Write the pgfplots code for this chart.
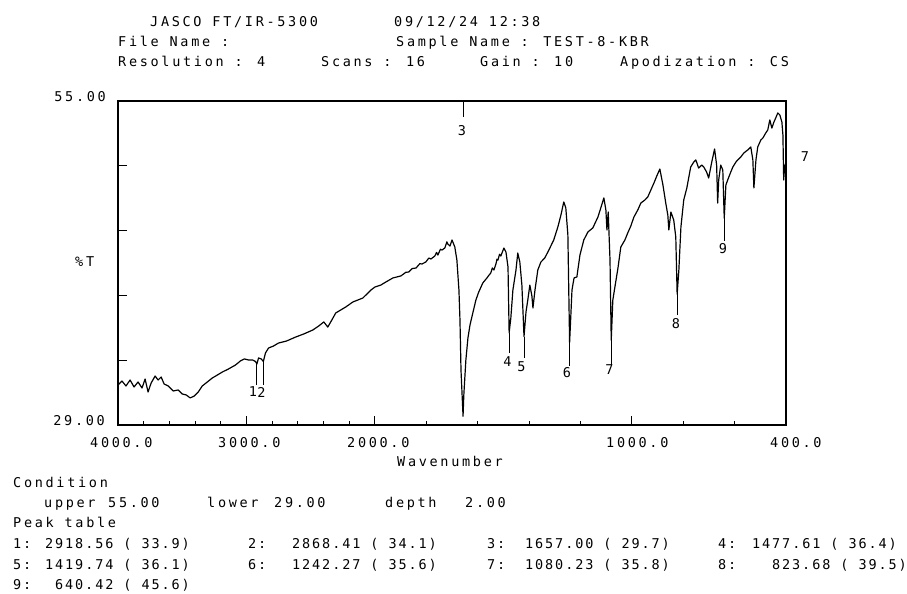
\documentclass[border=0pt]{standalone}
\usepackage{pgfplots}
\usepackage{pgfplotstable}
\pgfplotsset{compat=1.18}
\usepackage{fontspec}
\newfontfamily\plt[LetterSpace=20]{DejaVu Sans Mono}
\newfontfamily\pltt[LetterSpace=14]{DejaVu Sans Mono}
\newcommand\pf{\plt\fontsize{13.5bp}{16bp}\selectfont}
\newcommand\pt{\pltt\fontsize{13.5bp}{16bp}\selectfont}

\pgfplotstableread{
wn T
4000 32.21
3969 32.53
3938 32.13
3906 32.61
3875 32.05
3844 32.45
3813 31.97
3789 32.69
3766 31.65
3742 32.37
3711 32.93
3688 32.61
3664 32.85
3641 32.29
3609 32.13
3570 31.73
3531 31.81
3500 31.49
3469 31.41
3438 31.17
3406 31.33
3375 31.65
3344 32.13
3305 32.45
3266 32.77
3227 33.01
3188 33.25
3141 33.49
3086 33.81
3047 34.14
3016 34.30
2984 34.22
2953 34.22
2930 34.10
2918.56 33.90
2906 34.38
2885 34.30
2868.41 34.10
2852 34.78
2828 35.18
2789 35.34
2750 35.58
2688 35.74
2617 36.06
2555 36.30
2484 36.62
2438 36.94
2398 37.27
2367 36.86
2344 37.27
2305 37.99
2266 38.23
2227 38.47
2172 38.87
2094 39.19
2031 39.83
2000 40.07
1977 40.23
1957 40.48
1930 40.80
1899 40.96
1880 41.25
1868 41.28
1855 41.55
1840 41.60
1825 41.95
1817 41.92
1802 42.08
1790 42.40
1782 42.32
1767 42.56
1760 42.85
1755 42.64
1745 43.10
1739 43.04
1728 43.20
1720 43.70
1716 43.52
1708 43.36
1700 43.85
1689 43.28
1681 42.24
1673 39.83
1669 37.43
1665 33.41
1657 29.70
1654 31.41
1646 34.22
1638 35.98
1630 37.02
1619 37.99
1607 39.03
1596 39.67
1580 40.40
1564 40.80
1557 41.00
1549 41.20
1543 41.60
1537 41.44
1529 41.92
1525 42.30
1521 42.24
1515 42.70
1510 42.56
1498 43.20
1490 42.88
1482 41.68
1477.61 36.40
1471 37.59
1463 39.83
1451 41.44
1444 42.80
1436 42.08
1428 40.23
1419.74 36.10
1412 38.07
1405 39.03
1397 40.23
1389 39.35
1385 38.39
1377 39.83
1366 41.44
1354 42.08
1339 42.40
1323 43.04
1304 43.85
1288 44.89
1276 45.85
1265 46.90
1257 46.41
1249 44.25
1242.27 35.60
1233 39.83
1225 40.80
1214 40.88
1202 42.64
1187 43.85
1171 44.49
1152 44.81
1132 45.69
1121 46.41
1109 47.22
1101 46.25
1097 44.65
1092 46.09
1085 42.24
1080.23 35.80
1074 39.03
1066 40.07
1054 41.60
1043 43.28
1027 43.85
1016 44.41
1004 44.97
992 45.69
977 46.25
965 46.81
949 47.06
938 47.30
926 47.86
914 48.42
903 48.98
891 49.54
879 48.26
868 46.81
860 45.85
856 44.65
848 46.09
837 45.45
829 44.09
823.68 39.50
817 41.44
809 44.89
798 47.06
786 48.02
771 49.70
759 50.10
751 50.27
740 49.62
728 49.86
720 49.70
709 49.30
701 48.82
689 50.10
678 51.15
670 49.86
666 46.81
662 48.66
654 49.86
646 49.46
640.42 45.60
634 48.26
627 48.66
615 49.30
607 49.70
595 50.10
588 50.27
576 50.51
564 50.83
549 51.07
537 51.31
529 50.27
525 48.02
517 50.27
510 51.31
498 51.87
490 52.03
479 52.43
471 52.67
463 53.48
455 52.83
447 53.31
440 53.64
432 54.04
424 53.88
416 53.31
412 52.27
409 48.66
405 49.86
400 49.46
}\spec

\begin{document}
\begin{tikzpicture}
\useasboundingbox (-118bp,-169bp) rectangle (789bp,425bp);
\begin{axis}[
  at={(0,0)}, anchor=south west,
  scale only axis, width=668bp, height=324bp,
  xmin=0, xmax=5200, ymin=29, ymax=55,
  axis line style={line width=1.1pt},
  xtick={0,1000,2000,4000,5200},
  minor xtick={200,400,600,800,1200,1400,1600,1800,2400,2800,3200,3600,4400,4800},
  ytick={34.2,39.4,44.6,49.8},
  xticklabels={}, yticklabels={},
  xtick pos=bottom, ytick pos=left, tick align=inside,
  major tick length=9bp, minor tick length=4bp,
  every tick/.style={black, line width=0.9pt},
  clip=false,
  x filter/.expression={x<2000 ? 6000-2*x : 4000-x},
]
\addplot[black, line width=1.2pt, line join=round] table[x=wn, y=T]{\spec};
% peak markers
\addplot[black, line width=0.9pt] coordinates {(2918.56,33.9) (2918.56,32.21)};
\addplot[black, line width=0.9pt] coordinates {(2868.41,34.1) (2868.41,32.21)};
\addplot[black, line width=0.9pt] coordinates {(1657,55) (1657,53.72)};
\addplot[black, line width=0.9pt] coordinates {(1477.61,36.4) (1477.61,34.78)};
\addplot[black, line width=0.9pt] coordinates {(1419.74,36.1) (1419.74,34.38)};
\addplot[black, line width=0.9pt] coordinates {(1242.27,35.6) (1242.27,33.73)};
\addplot[black, line width=0.9pt] coordinates {(1080.23,35.8) (1080.23,33.81)};
\addplot[black, line width=0.9pt] coordinates {(823.68,39.5) (823.68,37.83)};
\addplot[black, line width=0.9pt] coordinates {(640.42,45.6) (640.42,43.77)};
\end{axis}

\begin{scope}[x=1bp, y=-1bp, shift={(-118bp,425bp)}, every node/.style={inner sep=0pt, font=\pf}]
% header
\node[anchor=base west] at (150,26.5) {JASCO FT/IR-5300};
\node[anchor=base west] at (394,26.5) {09/12/24 12:38};
\node[anchor=base west] at (118,46.7) {File Name  :};
\node[anchor=base west] at (396,46.7) {Sample Name : TEST-8-KBR};
\node[anchor=base west] at (118,67) {Resolution : 4};
\node[anchor=base west] at (321,67) {Scans : 16};
\node[anchor=base west] at (480,67) {Gain : 10};
\node[anchor=base west] at (620,67) {Apodization : CS};
% y labels
\node[anchor=base east] at (106,101.5) {55.00};
\node[anchor=base east] at (105,426) {29.00};
\node[anchor=base west] at (75,267) {\%T};
% x labels
\node[anchor=base west] at (90,448) {4000.0};
\node[anchor=base west] at (218,448) {3000.0};
\node[anchor=base west] at (347,448) {2000.0};
\node[anchor=base west] at (606,448) {1000.0};
\node[anchor=base west] at (770,448) {400.0};
\node[anchor=base west] at (397,467) {Wavenumber};
% peak labels
\node at (253,392) {1};
\node at (261.5,392) {2};
\node at (462,131) {3};
\node at (507.5,362) {4};
\node at (521.5,367) {5};
\node at (567,373) {6};
\node at (609.5,370) {7};
\node at (676,324) {8};
\node at (723,249) {9};
\node at (805,157) {7};
% bottom block
\node[anchor=base west] at (13,488) {Condition};
\node[anchor=base west] at (44,508) {upper};
\node[anchor=base west] at (108,508) {55.00};
\node[anchor=base west] at (207,508) {lower};
\node[anchor=base west] at (274,508) {29.00};
\node[anchor=base west] at (385,508) {depth};
\node[anchor=base west] at (465,508) {2.00};
\node[anchor=base west] at (13,528) {Peak table};
\end{scope}
\begin{scope}[x=1bp, y=-1bp, shift={(-118bp,425bp)}, every node/.style={inner sep=0pt, font=\pt, anchor=base west}]
% peak table rows
\node at (13,549) {1:};
\node at (45,549) {2918.56 ( 33.9)};
\node at (248,549) {2:};
\node at (292,549) {2868.41 ( 34.1)};
\node at (487,549) {3:};
\node at (525,549) {1657.00 ( 29.7)};
\node at (718,549) {4:};
\node at (752,549) {1477.61 ( 36.4)};
\node at (13,570) {5:};
\node at (45,570) {1419.74 ( 36.1)};
\node at (248,570) {6:};
\node at (292,570) {1242.27 ( 35.6)};
\node at (487,570) {7:};
\node at (525,570) {1080.23 ( 35.8)};
\node at (718,570) {8:};
\node at (772,570) {823.68 ( 39.5)};
\node at (13,590) {9:};
\node at (55,590) {640.42 ( 45.6)};
\end{scope}
\end{tikzpicture}
\end{document}
